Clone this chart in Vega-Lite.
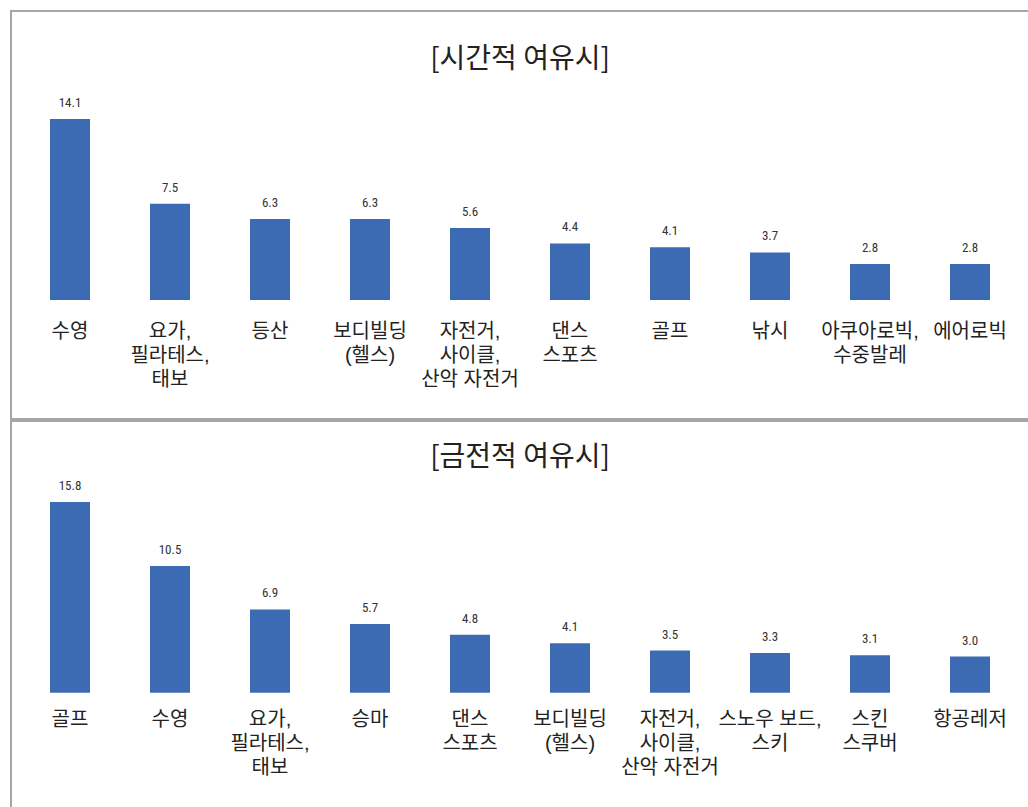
{
  "$schema": "https://vega.github.io/schema/vega-lite/v6.json",
  "padding": {"left": 10, "top": 10, "right": 0, "bottom": 0},
  "background": "white",
  "spacing": 0,
  "config": {
    "view": {"stroke": "#a6a6a6", "strokeWidth": 2},
    "font": "Noto Sans CJK KR",
    "title": {"font": "Noto Sans CJK KR", "fontSize": 28, "fontWeight": "normal", "color": "#222222", "anchor": "middle", "frame": "group"}
  },
  "vconcat": [
    {
      "width": 1018,
      "height": 408,
      "title": {"text": "[시간적 여유시]", "offset": -63},
      "data": {"values": [
        {"label": "수영", "value": 14.1},
        {"label": "요가,\n필라테스,\n태보", "value": 7.5},
        {"label": "등산", "value": 6.3},
        {"label": "보디빌딩\n(헬스)", "value": 6.3},
        {"label": "자전거,\n사이클,\n산악 자전거", "value": 5.6},
        {"label": "댄스\n스포츠", "value": 4.4},
        {"label": "골프", "value": 4.1},
        {"label": "낚시", "value": 3.7},
        {"label": "아쿠아로빅,\n수중발레", "value": 2.8},
        {"label": "에어로빅", "value": 2.8}
      ]},
      "encoding": {
        "x": {"field": "label", "type": "nominal", "sort": null, "axis": null,
              "scale": {"paddingInner": 0.6, "paddingOuter": 0.39}}
      },
      "layer": [
        {"mark": {"type": "bar", "color": "#3d6bb3"},
         "encoding": {
           "y": {"field": "value", "type": "quantitative", "axis": null, "scale": {"domain": [-9.27, 22.5], "nice": false, "zero": false}},
           "y2": {"datum": 0}
         }},
        {"mark": {"type": "text", "baseline": "bottom", "dy": -9, "fontSize": 13, "font": "Liberation Sans Narrow, Roboto Condensed, Roboto, sans-serif", "color": "#333333"},
         "encoding": {
           "y": {"field": "value", "type": "quantitative"},
           "text": {"field": "value", "type": "quantitative", "format": ".1f"}
         }},
        {"mark": {"type": "text", "baseline": "top", "dy": 22, "fontSize": 20, "lineHeight": 24, "lineBreak": "\n", "color": "#222222", "font": "Liberation Sans, Noto Sans CJK KR"},
         "encoding": {
           "y": {"datum": 0},
           "text": {"field": "label"}
         }},
        {"mark": {"type": "rule", "color": "#404040", "strokeWidth": 1.5},
         "encoding": {"y": {"datum": 0}}}
      ]
    },
    {
      "width": 1018,
      "height": 389,
      "title": {"text": "[금전적 여유시]", "offset": -51},
      "data": {"values": [
        {"label": "골프", "value": 15.8},
        {"label": "수영", "value": 10.5},
        {"label": "요가,\n필라테스,\n태보", "value": 6.9},
        {"label": "승마", "value": 5.7},
        {"label": "댄스\n스포츠", "value": 4.8},
        {"label": "보디빌딩\n(헬스)", "value": 4.1},
        {"label": "자전거,\n사이클,\n산악 자전거", "value": 3.5},
        {"label": "스노우 보드,\n스키", "value": 3.3},
        {"label": "스킨\n스쿠버", "value": 3.1},
        {"label": "항공레저", "value": 3.0}
      ]},
      "encoding": {
        "x": {"field": "label", "type": "nominal", "sort": null, "axis": null,
              "scale": {"paddingInner": 0.6, "paddingOuter": 0.39}}
      },
      "layer": [
        {"mark": {"type": "bar", "color": "#3d6bb3"},
         "encoding": {
           "y": {"field": "value", "type": "quantitative", "axis": null, "scale": {"domain": [-9.7, 22.5], "nice": false, "zero": false}},
           "y2": {"datum": 0}
         }},
        {"mark": {"type": "text", "baseline": "bottom", "dy": -9, "fontSize": 13, "font": "Liberation Sans Narrow, Roboto Condensed, Roboto, sans-serif", "color": "#333333"},
         "encoding": {
           "y": {"field": "value", "type": "quantitative"},
           "text": {"field": "value", "type": "quantitative", "format": ".1f"}
         }},
        {"mark": {"type": "text", "baseline": "top", "dy": 17, "fontSize": 20, "lineHeight": 24, "lineBreak": "\n", "color": "#222222", "font": "Liberation Sans, Noto Sans CJK KR"},
         "encoding": {
           "y": {"datum": 0},
           "text": {"field": "label"}
         }},
        {"mark": {"type": "rule", "color": "#404040", "strokeWidth": 1.5},
         "encoding": {"y": {"datum": 0}}}
      ]
    }
  ]
}
